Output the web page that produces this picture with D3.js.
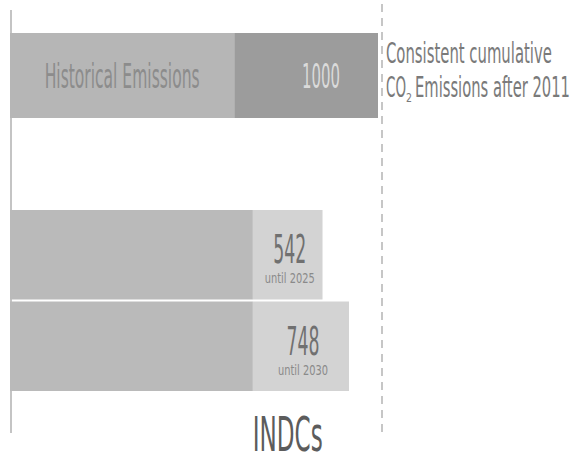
<!doctype html>
<html lang="en">
<head>
  <meta charset="utf-8">
  <title>INDCs carbon budget</title>
  <script src="https://d3js.org/d3.v7.min.js"></script>
  <style>
    body { margin: 0; background: #fff; }
    text { font-family: "Liberation Sans Narrow", "DejaVu Sans Condensed", "Liberation Sans", sans-serif; }
  </style>
</head>
<body>
  <div id="chart"></div>
  <script type="text/javascript">

    var width = 573, height = 463;

    // top row: historical emissions + budget after 2011
    var topCategories = ['Historical Emissions'];
    var topHistorical = [1560];
    var topBudget = [1000];

    // INDC rows
    var indcCategories = ['until 2025', 'until 2030'];
    var indcHistorical = [1890, 1890];
    var indcValues = [542, 748];

    var budgetTitle = ['Consistent cumulative', 'Emissions after 2011'];
    var bottomLabel = 'INDCs';

    var svg = d3.select('#chart')
                .append('svg')
                .attr('width', width)
                .attr('height', height);

    // squeeze a text horizontally so it is w pixels wide (the print uses a condensed face)
    function label(parent, txt, x, y, size, w, anchor, color) {
      var t = parent.append('text')
                    .attr('x', 0).attr('y', 0)
                    .attr('text-anchor', anchor)
                    .attr('font-size', size)
                    .attr('fill', color)
                    .text(txt);
      var natural = t.node().getComputedTextLength();
      t.attr('transform', 'translate(' + x + ',' + y + ') scale(' + (w / natural) + ',1)');
      return t;
    }

    // the infographic is not drawn to one scale, so each block has its own
    var xTop = d3.scaleLinear()
                 .domain([0, topHistorical[0] + topBudget[0]])
                 .range([10, 378]);

    var xIndc = d3.scaleLinear()
                  .domain([0, 2638])
                  .range([10, 349]);

    var yIndc = d3.scaleBand()
                  .domain(indcCategories)
                  .range([210, 391])
                  .paddingInner(0.022);

    // left axis line
    svg.append('line')
       .attr('x1', 11).attr('x2', 11)
       .attr('y1', 10).attr('y2', 433)
       .attr('stroke', '#c4c4c4')
       .attr('stroke-width', 2);

    // dashed budget line
    svg.append('line')
       .attr('x1', 382).attr('x2', 382)
       .attr('y1', 4).attr('y2', 433)
       .attr('stroke', '#b4b4b4')
       .attr('stroke-width', 1.5)
       .attr('stroke-dasharray', '8,6');

    // top bar
    var topG = svg.append('g');
    topG.selectAll('.hist')
       .data(topCategories)
       .enter()
       .append('rect')
       .attr('x', xTop(0))
       .attr('y', 33)
       .attr('width', function(d, i) { return xTop(topHistorical[i]) - xTop(0); })
       .attr('height', 85)
       .attr('fill', '#b6b6b6');

    topG.selectAll('.budget')
       .data(topBudget)
       .enter()
       .append('rect')
       .attr('x', function(d, i) { return xTop(topHistorical[i]); })
       .attr('y', 33)
       .attr('width', function(d, i) { return xTop(topHistorical[i] + d) - xTop(topHistorical[i]); })
       .attr('height', 85)
       .attr('fill', '#9c9c9c');

    label(topG, topCategories[0], (xTop(0) + xTop(topHistorical[0])) / 2, 88, 33, 155, 'middle', '#8c8c8c');
    label(topG, topBudget[0], xTop(topHistorical[0] + topBudget[0]) - 38, 88, 33, 38, 'end', '#dadada');

    // budget title to the right
    label(svg, budgetTitle[0], 386, 63, 29, 166, 'start', '#7a7a7a');
    label(svg, 'CO', 386, 97, 29, 20, 'start', '#7a7a7a');
    label(svg, '2', 406, 102, 13, 6, 'start', '#7a7a7a');
    label(svg, budgetTitle[1], 415, 97, 29, 155, 'start', '#7a7a7a');

    // INDC bars
    var indc = svg.append('g');
    indc.selectAll('.indc-hist')
        .data(indcCategories)
        .enter()
        .append('rect')
        .attr('x', xIndc(0))
        .attr('y', function(d) { return yIndc(d); })
        .attr('width', function(d, i) { return xIndc(indcHistorical[i]) - xIndc(0); })
        .attr('height', yIndc.bandwidth())
        .attr('fill', '#bababa');

    indc.selectAll('.indc-val')
        .data(indcValues)
        .enter()
        .append('rect')
        .attr('x', function(d, i) { return xIndc(indcHistorical[i]); })
        .attr('y', function(d, i) { return yIndc(indcCategories[i]); })
        .attr('width', function(d, i) { return xIndc(indcHistorical[i] + d) - xIndc(indcHistorical[i]); })
        .attr('height', yIndc.bandwidth())
        .attr('fill', '#d3d3d3');

    indcValues.forEach(function(v, i) {
      var cx = xIndc(indcHistorical[i] + v / 2) + 2;
      var y0 = yIndc(indcCategories[i]);
      label(indc, v, cx, y0 + 53, 39, 33, 'middle', '#707070');
      label(indc, indcCategories[i], cx, y0 + 73, 14, 50, 'middle', '#8a8a8a');
    });

    // bottom label
    label(svg, bottomLabel, xIndc(indcHistorical[0] + indcValues[0] / 2), 451, 48, 70, 'middle', '#5c5c5c');

  </script>
</body>
</html>
